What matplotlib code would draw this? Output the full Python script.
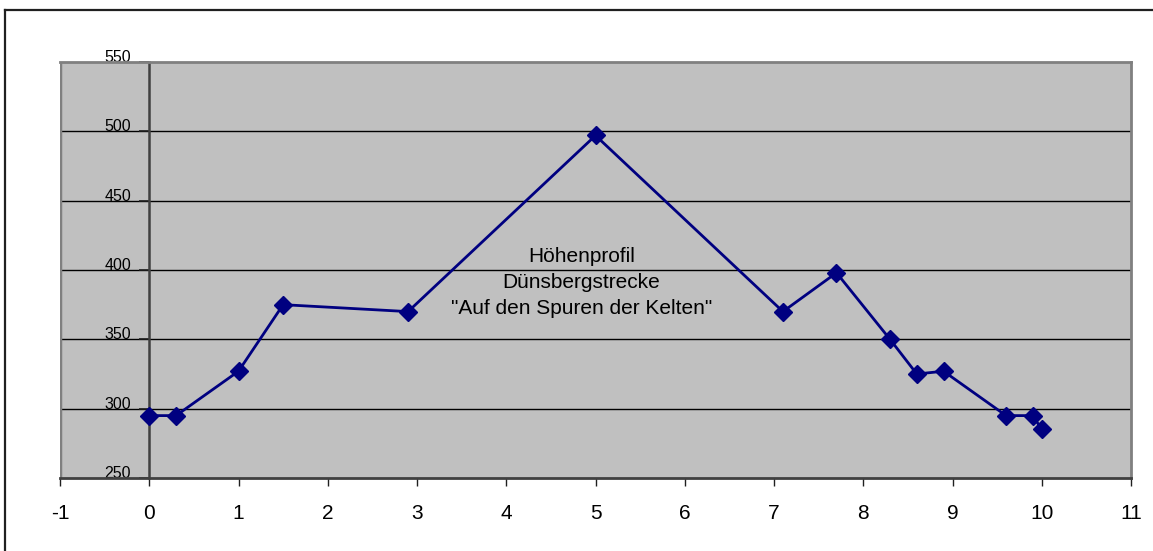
import matplotlib
matplotlib.use("Agg")
import matplotlib.pyplot as plt
from matplotlib.lines import Line2D

plt.rcParams['font.family'] = ['Liberation Sans', 'DejaVu Sans']

# Strecke in km und Hoehe in m
km = [0, 0.3, 1, 1.5, 2.9, 5, 7.1, 7.7, 8.3, 8.6, 8.9, 9.6, 9.9, 10.0]
hoehe = [295, 295, 327, 375, 370, 497, 370, 398, 350, 325, 327, 295, 295, 285]

x_ticks = list(range(-1, 12))
y_ticks = [250, 300, 350, 400, 450, 500, 550]

fig = plt.figure(figsize=(11.53, 5.51), dpi=100)
ax = fig.add_axes([60 / 1153, 73 / 551, 1071 / 1153, 416 / 551])

ax.set_facecolor('#C0C0C0')
ax.set_xlim(-1, 11)
ax.set_ylim(250, 550)

# gitterlinien
for yv in y_ticks[1:-1]:
    ax.axhline(yv, color='black', lw=1, zorder=1)

ax.plot(km, hoehe, color='#000080', lw=2, marker='D', markersize=9,
        markerfacecolor='#000080', markeredgecolor='#000080', zorder=3,
        clip_on=False)

# rahmen der zeichenflaeche
ax.spines['top'].set_color('#808080')
ax.spines['top'].set_linewidth(2)
ax.spines['right'].set_color('#808080')
ax.spines['right'].set_linewidth(2)
ax.spines['bottom'].set_color('#404040')
ax.spines['bottom'].set_linewidth(2)
ax.spines['left'].set_position(('data', 0))
ax.spines['left'].set_color('#404040')
ax.spines['left'].set_linewidth(1.8)
ax.axvline(-1, color='#808080', lw=2.5, zorder=2)

ax.set_xticks(x_ticks)
ax.set_xticklabels([str(v) for v in x_ticks])
ax.set_yticks(y_ticks)
ax.set_yticklabels([str(v) for v in y_ticks])

ax.tick_params(axis='x', direction='out', length=6, width=1, color='#202020',
               labelsize=15, pad=12.5)
ax.tick_params(axis='y', direction='out', length=7, width=1.2, color='#202020',
               labelsize=11.5, pad=6)
for lab in ax.get_yticklabels():
    lab.set_va('baseline')

ax.text(4.84, 391, 'Höhenprofil\nDünsbergstrecke\n"Auf den Spuren der Kelten"',
        ha='center', va='center', fontsize=15, linespacing=1.45, zorder=4)

# aeusserer diagrammrahmen (rechts und unten abgeschnitten)
fig.add_artist(Line2D([4.5 / 1153, 4.5 / 1153], [0, 1 - 10 / 551],
                      transform=fig.transFigure, color='#202020', lw=1.6))
fig.add_artist(Line2D([4.5 / 1153, 1], [1 - 10 / 551, 1 - 10 / 551],
                      transform=fig.transFigure, color='#202020', lw=1.6))

fig.savefig('out.png', dpi=100)
